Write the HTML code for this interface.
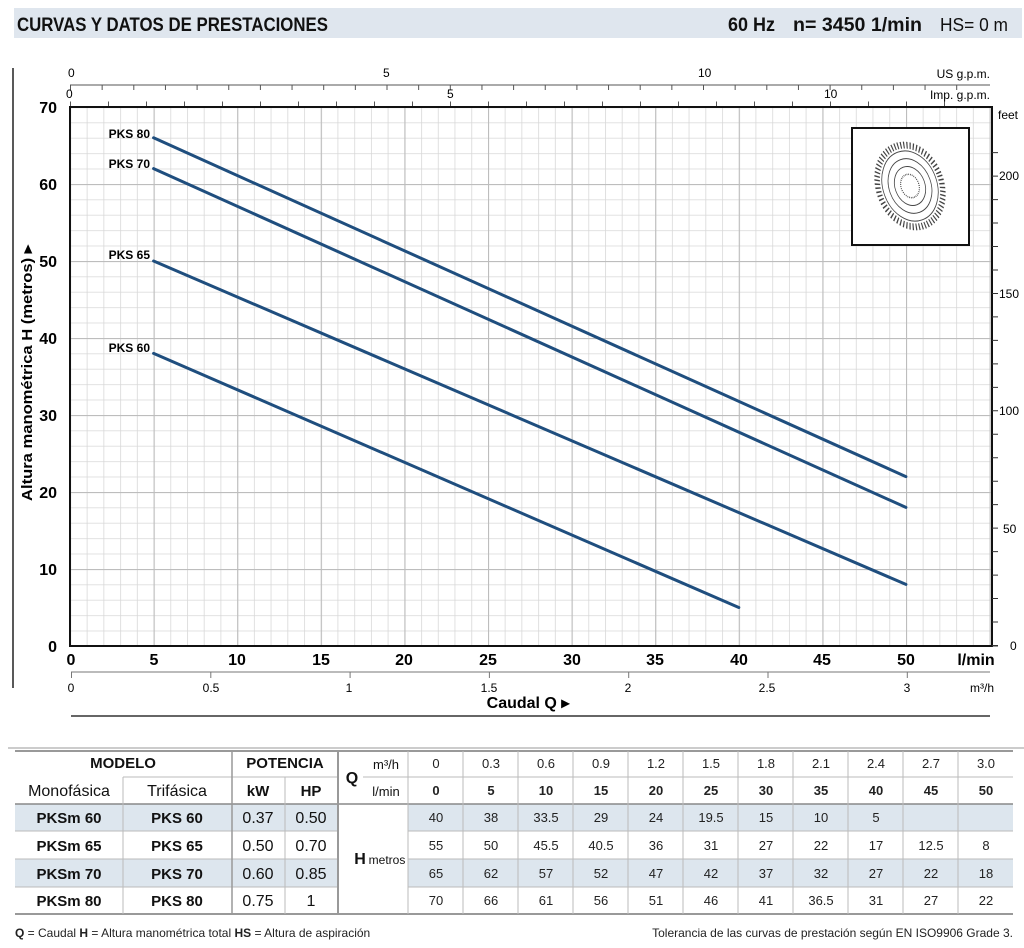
<!DOCTYPE html>
<html><head><meta charset="utf-8"><style>
html,body{margin:0;padding:0;background:#fff}
svg{display:block}
text{font-family:"Liberation Sans Narrow","Liberation Sans",sans-serif}
.b{font-weight:bold}
.t{font-family:"Liberation Sans",sans-serif}
</style></head><body>
<svg width="1024" height="948" viewBox="0 0 1024 948" xmlns="http://www.w3.org/2000/svg">
<defs>
<pattern id="g1" patternUnits="userSpaceOnUse" x="70" y="646" width="16.72" height="15.4">
<line x1="0.3" y1="0" x2="0.3" y2="15.4" stroke="#d8d8d8" stroke-width="1"/>
<line x1="0" y1="0.3" x2="16.72" y2="0.3" stroke="#d8d8d8" stroke-width="1"/>
</pattern>
<pattern id="g2" patternUnits="userSpaceOnUse" x="70" y="646" width="83.6" height="77">
<line x1="0.5" y1="0" x2="0.5" y2="77" stroke="#bdbdbd" stroke-width="1.2"/>
<line x1="0" y1="0.5" x2="83.6" y2="0.5" stroke="#bdbdbd" stroke-width="1.2"/>
</pattern>
</defs>
<!-- header -->
<rect x="14" y="8" width="1008" height="30" fill="#dfe6ee"/>
<text x="17" y="31" class="b" font-size="19" fill="#111" textLength="311" lengthAdjust="spacingAndGlyphs">CURVAS Y DATOS DE PRESTACIONES</text>
<text x="728" y="31" class="b" font-size="19" fill="#111" textLength="47" lengthAdjust="spacingAndGlyphs">60 Hz</text>
<text x="793" y="31" class="b" font-size="19" fill="#111" textLength="129" lengthAdjust="spacingAndGlyphs">n= 3450  1/min</text>
<text x="940" y="31" font-size="18" fill="#111" textLength="68" lengthAdjust="spacingAndGlyphs">HS= 0 m</text>
<line x1="13" y1="68" x2="13" y2="688" stroke="#222" stroke-width="1.5"/>
<!-- top axes -->
<line x1="70" y1="85" x2="990" y2="85" stroke="#555" stroke-width="1"/>
<line x1="70" y1="87.5" x2="960" y2="87.5" stroke="#555" stroke-width="5" stroke-dasharray="1 30.65"/>
<text x="68" y="77" font-size="12">0</text><text x="383" y="77" font-size="12">5</text><text x="698" y="77" font-size="12">10</text>
<text x="990" y="78" font-size="12" text-anchor="end">US g.p.m.</text>
<line x1="70" y1="104" x2="960" y2="104" stroke="#555" stroke-width="5" stroke-dasharray="1 37"/>
<text x="66" y="98" font-size="12">0</text><text x="447" y="98" font-size="12">5</text><text x="824" y="98" font-size="12">10</text>
<text x="990" y="99" font-size="12" text-anchor="end">Imp. g.p.m.</text>
<!-- plot -->
<rect x="70" y="107" width="922" height="539" fill="#fff"/>
<rect x="70" y="107" width="922" height="539" fill="url(#g1)"/>
<rect x="70" y="107" width="922" height="539" fill="url(#g2)"/>
<rect x="70" y="107" width="922" height="539" fill="none" stroke="#111" stroke-width="2"/>
<!-- impeller box -->
<rect x="852" y="128" width="117" height="117" fill="#fff" stroke="#111" stroke-width="2"/>
<g transform="translate(910,186) rotate(-20) scale(0.75,1)" fill="none" stroke="#444">
<circle r="42" stroke-width="7" stroke-dasharray="1.5 2.5"/>
<circle r="36" stroke-width="1"/><circle r="28" stroke-width="1"/><circle r="20" stroke-width="1"/>
<circle r="12" stroke-width="1.5" stroke-dasharray="1 1.2"/>
</g>
<!-- curves -->
<g stroke="#1f4e7e" stroke-width="3" fill="none" stroke-linecap="round">
<polyline points="153.6,137.8 905.9,476.6"/>
<polyline points="153.6,168.6 905.9,507.4"/>
<polyline points="153.6,261 905.9,584.4"/>
<polyline points="153.6,353.4 738.8,607.5"/>
</g>
<g class="b" font-size="12" text-anchor="end">
<text x="150" y="138">PKS 80</text><text x="150" y="168">PKS 70</text>
<text x="150" y="259">PKS 65</text><text x="150" y="352">PKS 60</text>
</g>
<!-- left labels -->
<g class="b" font-size="16" text-anchor="end">
<text x="57" y="113">70</text><text x="57" y="190">60</text><text x="57" y="267">50</text>
<text x="57" y="344">40</text><text x="57" y="421">30</text><text x="57" y="498">20</text>
<text x="57" y="575">10</text><text x="57" y="652">0</text>
</g>
<text transform="translate(32,373) rotate(-90)" class="b t" font-size="15" text-anchor="middle" textLength="256" lengthAdjust="spacingAndGlyphs">Altura manométrica  H  (metros)  ▸</text>
<!-- right axis -->
<line x1="992" y1="646" x2="998" y2="646" stroke="#333" stroke-width="1"/>
<line x1="995" y1="646" x2="995" y2="130" stroke="#333" stroke-width="6" stroke-dasharray="1 22.47"/>
<g font-size="12">
<text x="998" y="119">feet</text><text x="999" y="180">200</text><text x="999" y="298">150</text>
<text x="999" y="415">100</text><text x="1003" y="533">50</text><text x="1010" y="650">0</text>
</g>
<!-- bottom l/min -->
<g class="b" font-size="16" text-anchor="middle">
<text x="71" y="665">0</text><text x="154" y="665">5</text><text x="237" y="665">10</text>
<text x="321" y="665">15</text><text x="404" y="665">20</text><text x="488" y="665">25</text>
<text x="572" y="665">30</text><text x="655" y="665">35</text><text x="739" y="665">40</text>
<text x="822" y="665">45</text><text x="906" y="665">50</text><text x="976" y="665">l/min</text>
</g>
<line x1="71" y1="672" x2="990" y2="672" stroke="#777" stroke-width="1"/>
<line x1="71" y1="675" x2="910" y2="675" stroke="#777" stroke-width="6" stroke-dasharray="1 138.3"/>
<g font-size="12" text-anchor="middle">
<text x="71" y="692">0</text><text x="211" y="692">0.5</text><text x="349" y="692">1</text>
<text x="489" y="692">1.5</text><text x="628" y="692">2</text><text x="767" y="692">2.5</text>
<text x="907" y="692">3</text><text x="982" y="692">m³/h</text>
</g>
<text x="528" y="708" class="b" font-size="16" text-anchor="middle">Caudal  Q  ▸</text>
<line x1="71" y1="716" x2="990" y2="716" stroke="#666" stroke-width="2"/>
<line x1="8" y1="748" x2="1024" y2="748" stroke="#999" stroke-width="1"/>
<!-- table -->
<rect x="15" y="804" width="998" height="27" fill="#dde6ee"/>
<rect x="15" y="859" width="998" height="28" fill="#dde6ee"/>
<rect x="338" y="804" width="70" height="110" fill="#fff"/>
<g stroke="#bbb" stroke-width="1">
<line x1="15" y1="751" x2="1013" y2="751" stroke="#999" stroke-width="2"/>
<line x1="15" y1="914" x2="1013" y2="914" stroke="#999" stroke-width="2"/>
<line x1="15" y1="804" x2="1013" y2="804" stroke="#888" stroke-width="1.5"/>
<line x1="123" y1="777" x2="338" y2="777"/><line x1="363" y1="777" x2="1013" y2="777"/>
<line x1="408" y1="831" x2="1013" y2="831"/><line x1="408" y1="859" x2="1013" y2="859"/><line x1="408" y1="887" x2="1013" y2="887"/>
<line x1="15" y1="831" x2="338" y2="831"/><line x1="15" y1="859" x2="338" y2="859"/><line x1="15" y1="887" x2="338" y2="887"/>
<line x1="123" y1="777" x2="123" y2="914"/><line x1="232" y1="751" x2="232" y2="914" stroke="#999" stroke-width="1.5"/>
<line x1="285" y1="777" x2="285" y2="914"/><line x1="338" y1="751" x2="338" y2="914" stroke="#999" stroke-width="2"/>
<line x1="408" y1="751" x2="408" y2="914"/>
<line x1="463" y1="751" x2="463" y2="914"/><line x1="518" y1="751" x2="518" y2="914"/><line x1="573" y1="751" x2="573" y2="914"/>
<line x1="628" y1="751" x2="628" y2="914"/><line x1="683" y1="751" x2="683" y2="914"/><line x1="738" y1="751" x2="738" y2="914"/>
<line x1="793" y1="751" x2="793" y2="914"/><line x1="848" y1="751" x2="848" y2="914"/><line x1="903" y1="751" x2="903" y2="914"/>
<line x1="958" y1="751" x2="958" y2="914"/>
</g>
<g class="t" font-size="15" text-anchor="middle" fill="#111">
<text x="123" y="768" class="b t">MODELO</text><text x="285" y="768" class="b t">POTENCIA</text>
<text x="69" y="796" font-size="16">Monofásica</text><text x="177" y="796" font-size="16">Trifásica</text>
<text x="258" y="796" class="b t">kW</text><text x="311" y="796" class="b t">HP</text>
<text x="352" y="783" class="b t" font-size="16">Q</text>
<text x="386" y="769" font-size="13">m³/h</text><text x="386" y="796" font-size="13">l/min</text>
<text x="360" y="864" class="b t" font-size="16">H</text><text x="387" y="864" font-size="12">metros</text>
</g>
<g class="t" font-size="15" text-anchor="middle" fill="#111">
<g class="b t"><text x="69" y="823">PKSm 60</text><text x="177" y="823">PKS 60</text>
<text x="69" y="851">PKSm 65</text><text x="177" y="851">PKS 65</text>
<text x="69" y="879">PKSm 70</text><text x="177" y="879">PKS 70</text>
<text x="69" y="906">PKSm 80</text><text x="177" y="906">PKS 80</text></g>
<text x="258" y="823" font-size="16">0.37</text><text x="311" y="823" font-size="16">0.50</text>
<text x="258" y="851" font-size="16">0.50</text><text x="311" y="851" font-size="16">0.70</text>
<text x="258" y="879" font-size="16">0.60</text><text x="311" y="879" font-size="16">0.85</text>
<text x="258" y="906" font-size="16">0.75</text><text x="311" y="906" font-size="16">1</text>
</g>
<g class="t" font-size="13" text-anchor="middle" fill="#222">
<text x="436" y="768">0</text><text x="491" y="768">0.3</text><text x="546" y="768">0.6</text><text x="601" y="768">0.9</text><text x="656" y="768">1.2</text><text x="711" y="768">1.5</text><text x="766" y="768">1.8</text><text x="821" y="768">2.1</text><text x="876" y="768">2.4</text><text x="931" y="768">2.7</text><text x="986" y="768">3.0</text>
<g class="b t"><text x="436" y="795">0</text><text x="491" y="795">5</text><text x="546" y="795">10</text><text x="601" y="795">15</text><text x="656" y="795">20</text><text x="711" y="795">25</text><text x="766" y="795">30</text><text x="821" y="795">35</text><text x="876" y="795">40</text><text x="931" y="795">45</text><text x="986" y="795">50</text></g>
<text x="436" y="822">40</text><text x="491" y="822">38</text><text x="546" y="822">33.5</text><text x="601" y="822">29</text><text x="656" y="822">24</text><text x="711" y="822">19.5</text><text x="766" y="822">15</text><text x="821" y="822">10</text><text x="876" y="822">5</text>
<text x="436" y="850">55</text><text x="491" y="850">50</text><text x="546" y="850">45.5</text><text x="601" y="850">40.5</text><text x="656" y="850">36</text><text x="711" y="850">31</text><text x="766" y="850">27</text><text x="821" y="850">22</text><text x="876" y="850">17</text><text x="931" y="850">12.5</text><text x="986" y="850">8</text>
<text x="436" y="878">65</text><text x="491" y="878">62</text><text x="546" y="878">57</text><text x="601" y="878">52</text><text x="656" y="878">47</text><text x="711" y="878">42</text><text x="766" y="878">37</text><text x="821" y="878">32</text><text x="876" y="878">27</text><text x="931" y="878">22</text><text x="986" y="878">18</text>
<text x="436" y="905">70</text><text x="491" y="905">66</text><text x="546" y="905">61</text><text x="601" y="905">56</text><text x="656" y="905">51</text><text x="711" y="905">46</text><text x="766" y="905">41</text><text x="821" y="905">36.5</text><text x="876" y="905">31</text><text x="931" y="905">27</text><text x="986" y="905">22</text>
</g>
<text x="15" y="937" class="t" font-size="12" fill="#222"><tspan class="b t">Q</tspan> = Caudal   <tspan class="b t">H</tspan> = Altura manométrica total   <tspan class="b t">HS</tspan> = Altura de aspiración</text>
<text x="1013" y="937" class="t" font-size="12" fill="#222" text-anchor="end">Tolerancia de las curvas de prestación según EN ISO9906 Grade 3.</text>
</svg>
</body></html>
